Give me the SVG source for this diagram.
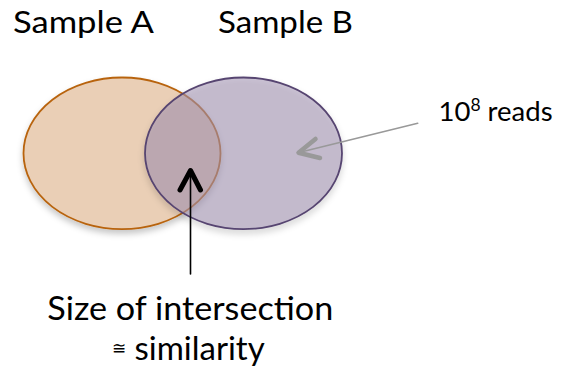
<svg xmlns="http://www.w3.org/2000/svg" width="563" height="371" viewBox="0 0 563 371">
<style>
.t{font-family:Lato,"Open Sans","Liberation Sans",sans-serif;fill:#000}
</style>
<defs>
<filter id="sh" x="-20%" y="-20%" width="140%" height="150%">
<feDropShadow dx="0" dy="4" stdDeviation="3" flood-color="#000" flood-opacity="0.22"/>
</filter>
</defs>
<rect width="563" height="371" fill="#fff"/>
<g id="sampleA">
<ellipse cx="122" cy="153.3" rx="98.5" ry="75.8" fill="#EACFB6" stroke="#B8640F" stroke-width="1.8" filter="url(#sh)"/>
<text class="t" x="13" y="33" font-size="30" textLength="141" lengthAdjust="spacingAndGlyphs">Sample A</text>
</g>
<g id="sampleB">
<ellipse cx="243.5" cy="153.3" rx="98.5" ry="75.8" fill="#A393B3" fill-opacity="0.55" stroke="#574571" stroke-width="1.8" filter="url(#sh)"/>
<text class="t" x="218" y="33" font-size="30" textLength="135" lengthAdjust="spacingAndGlyphs">Sample B</text>
</g>
<g id="reads">
<text class="t" x="438.5" y="120.7" font-size="27.5">10<tspan font-size="17.5" dy="-10">8</tspan><tspan dy="10"> reads</tspan></text>
</g>
<g id="intersection">
<text class="t" x="47.3" y="320" font-size="33" textLength="286" lengthAdjust="spacingAndGlyphs">Size of intersection</text>
<text class="t" x="112" y="360" font-size="33"><tspan font-size="17" dy="-6">≅</tspan><tspan dy="6"> similarity</tspan></text>
</g>
<g id="connectors" fill="none" stroke-linecap="round" stroke-linejoin="round">
<line x1="190.5" y1="274" x2="190.5" y2="171" stroke="#000" stroke-width="1.6"/>
<polyline points="180,190 190.5,170.5 200.5,190" stroke="#000" stroke-width="5"/>
<line x1="417.7" y1="123.3" x2="299" y2="152.5" stroke="#999" stroke-width="1.6"/>
<polyline points="315.5,139 298.5,152.7 320,158" stroke="#999" stroke-width="4.5"/>
</g>
</svg>
